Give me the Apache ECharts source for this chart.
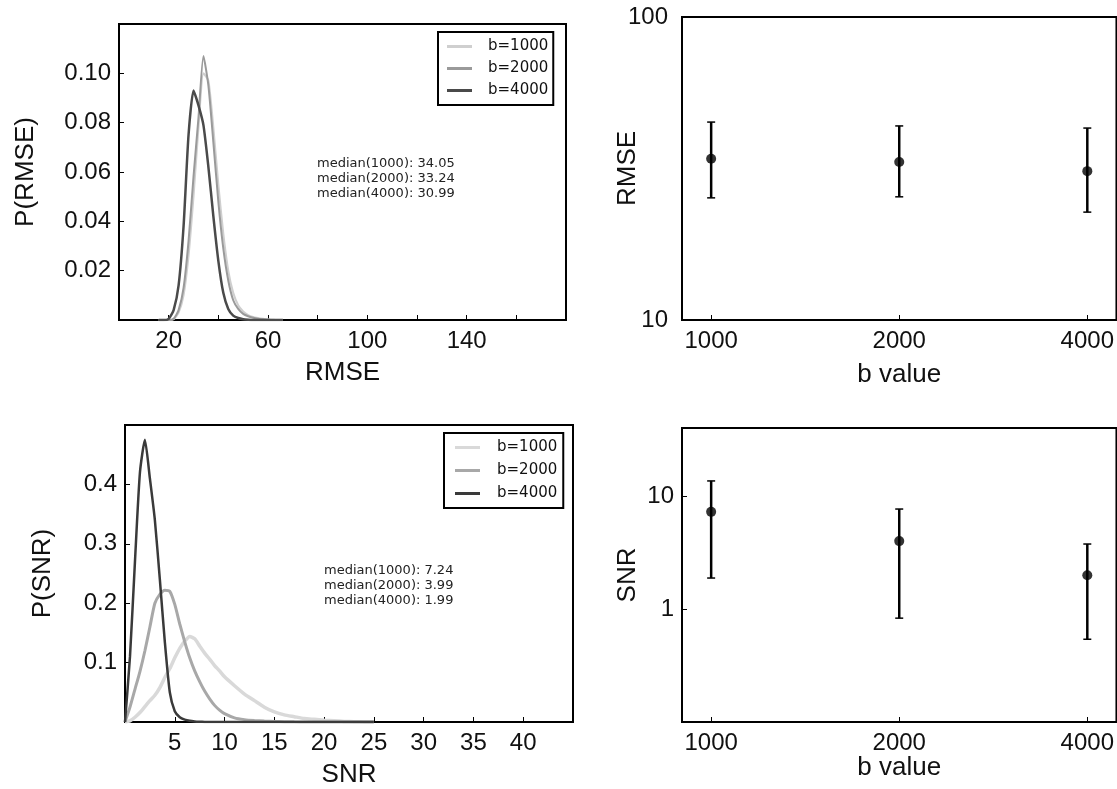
<!DOCTYPE html>
<html>
<head>
<meta charset="utf-8">
<script src="https://cdn.jsdelivr.net/npm/echarts@6/dist/echarts.min.js"></script>
<style>
html, body { margin: 0; padding: 0; background: #fff; }
#main { width: 1117px; height: 789px; }
</style>
</head>
<body>
<div id="main"></div>
<script>
// b values and names
var bLabels = ['1000', '2000', '4000']
var seriesNames = ['b=1000', 'b=2000', 'b=4000']

// P(RMSE) curves
var rmseX = [16, 18, 20, 22, 24, 26, 28, 30, 32, 34, 36, 38, 40, 42, 44, 46, 48, 50, 52, 54, 56, 58, 60, 62, 64, 66]
var rmse1000 = [0, 0, 0, 0.0003, 0.003, 0.010, 0.026, 0.050, 0.078, 0.100, 0.097, 0.078, 0.055, 0.035, 0.020, 0.011, 0.006, 0.0035, 0.002, 0.0012, 0.0008, 0.0005, 0.0003, 0.0001, 0, 0]
var rmse2000 = [0, 0, 0, 0.0005, 0.004, 0.013, 0.032, 0.058, 0.082, 0.107, 0.095, 0.072, 0.048, 0.029, 0.016, 0.008, 0.0045, 0.0025, 0.0015, 0.0009, 0.0005, 0.0003, 0.0001, 0, 0, 0]
var rmse4000 = [0, 0, 0.0005, 0.004, 0.014, 0.038, 0.075, 0.093, 0.087, 0.079, 0.062, 0.042, 0.024, 0.011, 0.0045, 0.0018, 0.0008, 0.0003, 0.0001, 0, 0, 0, 0, 0, 0, 0]

// P(SNR) curves
var snrX = [0, 0.5, 1, 1.5, 2, 2.5, 3, 3.5, 4, 4.5, 5, 5.5, 6, 6.5, 7, 7.5, 8, 8.5, 9, 9.5, 10, 11, 12, 13, 14, 15, 16, 17, 18, 19, 20, 21, 22, 23, 24, 25]
var snr1000 = [0, 0.002, 0.008, 0.016, 0.026, 0.036, 0.045, 0.058, 0.075, 0.090, 0.108, 0.124, 0.136, 0.144, 0.140, 0.128, 0.116, 0.106, 0.095, 0.086, 0.076, 0.061, 0.047, 0.036, 0.025, 0.017, 0.012, 0.009, 0.006, 0.0045, 0.003, 0.002, 0.001, 0.0005, 0.0002, 0]
var snr2000 = [0, 0.025, 0.055, 0.085, 0.120, 0.160, 0.200, 0.215, 0.222, 0.220, 0.198, 0.165, 0.135, 0.108, 0.086, 0.068, 0.052, 0.039, 0.028, 0.020, 0.014, 0.007, 0.004, 0.0025, 0.0015, 0.001, 0.0006, 0.0003, 0.0001, 0, 0, 0, 0, 0, 0, 0]
var snr4000 = [0, 0.110, 0.270, 0.420, 0.475, 0.410, 0.340, 0.240, 0.135, 0.050, 0.018, 0.008, 0.004, 0.002, 0.001, 0.0005, 0.0002, 0, 0, 0, 0, 0, 0, 0, 0, 0, 0, 0, 0, 0, 0, 0, 0, 0, 0, 0]

// medians with error bars
var rmseMedian = [34.05, 33.24, 30.99]
var rmseLow = [25.3, 25.5, 22.7]
var rmseHigh = [45.0, 43.7, 43.0]
var snrMedian = [7.24, 3.99, 1.99]
var snrLow = [1.88, 0.83, 0.54]
var snrHigh = [13.6, 7.67, 3.76]

var topColors = ['#cfcfcf', '#9a9a9a', '#4a4a4a']
var topWidths = [2, 2, 2.5]
var botColors = ['#d9d9d9', '#a8a8a8', '#3a3a3a']
var botWidths = [3.5, 3, 2.5]

var FONT = 'Liberation Sans, Arial, sans-serif'
var SMALL = 'DejaVu Sans, sans-serif'

function pairs(xs, ys) {
    var out = []
    for (var i = 0; i < xs.length; i++) {
        out.push([xs[i], ys[i]])
    }
    return out
}

function medianText(vals, digits) {
    var lines = []
    for (var i = 0; i < vals.length; i++) {
        lines.push('median(' + bLabels[i] + '): ' + vals[i].toFixed(digits))
    }
    return lines.join('\n')
}

function errData(med, low, high) {
    var out = []
    for (var i = 0; i < med.length; i++) {
        out.push([i, low[i], high[i]])
    }
    return out
}

function errItem(params, api) {
    var x = api.value(0)
    var lo = api.coord([x, api.value(1)])
    var hi = api.coord([x, api.value(2)])
    var cap = 4
    return {
        type: 'group',
        children: [
            { type: 'line', shape: { x1: lo[0], y1: lo[1], x2: hi[0], y2: hi[1] }, style: { stroke: '#000', lineWidth: 2.5 } },
            { type: 'line', shape: { x1: lo[0] - cap, y1: lo[1], x2: lo[0] + cap, y2: lo[1] }, style: { stroke: '#000', lineWidth: 1.5 } },
            { type: 'line', shape: { x1: hi[0] - cap, y1: hi[1], x2: hi[0] + cap, y2: hi[1] }, style: { stroke: '#000', lineWidth: 1.5 } }
        ]
    }
}

function legendData(colors) {
    var out = []
    for (var i = 0; i < seriesNames.length; i++) {
        out.push({ name: seriesNames[i], itemStyle: { color: colors[i] } })
    }
    return out
}

var tick = { show: true, inside: true, length: 5, lineStyle: { color: '#000', width: 1 } }
var line = { show: true, onZero: false, lineStyle: { color: '#000', width: 2 } }
var lbl = { color: '#111', fontFamily: FONT, fontSize: 24 }
var nameStyle = { color: '#111', fontFamily: FONT, fontSize: 26 }
var gridStyle = { show: true, borderColor: '#000', borderWidth: 2, backgroundColor: '#fff' }

var xLog = {
    type: 'value', min: -0.155, max: 2.155,
    axisLine: line, splitLine: { show: false },
    axisTick: { show: true, inside: true, length: 5, lineStyle: { color: '#000' }, customValues: [0, 1, 2] },
    nameLocation: 'middle', name: 'b value', nameTextStyle: nameStyle, nameMoveOverlap: false
}

var option = {
    backgroundColor: '#fff',
    animation: false,
    grid: [
        Object.assign({ left: 119, top: 24, width: 447, height: 296 }, gridStyle),
        Object.assign({ left: 682, top: 17, width: 446, height: 303 }, gridStyle),
        Object.assign({ left: 125, top: 425, width: 448, height: 298 }, gridStyle),
        Object.assign({ left: 682, top: 428, width: 446, height: 294 }, gridStyle)
    ],
    legend: [
        {
            orient: 'vertical', left: 438, top: 32, padding: [5, 5, 5, 9],
            itemGap: 3, itemWidth: 25, itemHeight: 3, icon: 'rect',
            borderColor: '#000', borderWidth: 2, backgroundColor: '#fff',
            selectedMode: false,
            textStyle: { fontFamily: SMALL, fontSize: 15, color: '#111', lineHeight: 19, padding: [0, 0, 0, 11] },
            data: legendData(topColors)
        },
        {
            orient: 'vertical', left: 444, top: 433, padding: [5, 6, 5, 11],
            itemGap: 4, itemWidth: 25, itemHeight: 3, icon: 'rect',
            borderColor: '#000', borderWidth: 2, backgroundColor: '#fff',
            selectedMode: false,
            textStyle: { fontFamily: SMALL, fontSize: 15, color: '#111', lineHeight: 19, padding: [0, 0, 0, 12] },
            data: legendData(botColors)
        }
    ],
    xAxis: [
        {
            gridIndex: 0, type: 'value', min: 0, max: 180, interval: 20,
            axisLine: line, axisTick: tick, splitLine: { show: false },
            axisLabel: Object.assign({ margin: 9, formatter: function (v) { return (v % 40 === 20 && v < 180) ? String(v) : '' } }, lbl),
            name: 'RMSE', nameLocation: 'middle', nameGap: 40, nameTextStyle: nameStyle, nameMoveOverlap: false
        },
        Object.assign({}, xLog, {
            gridIndex: 1, nameGap: 42,
            axisLabel: Object.assign({ margin: 9, customValues: [0, 1, 2], formatter: function (v) { return bLabels[Math.round(v)] } }, lbl)
        }),
        {
            gridIndex: 2, type: 'value', min: 0, max: 45, interval: 5,
            axisLine: line, axisTick: tick, splitLine: { show: false },
            axisLabel: Object.assign({ margin: 9, showMinLabel: false, showMaxLabel: false }, lbl),
            name: 'SNR', nameLocation: 'middle', nameGap: 40, nameTextStyle: nameStyle, nameMoveOverlap: false
        },
        Object.assign({}, xLog, {
            gridIndex: 3, nameGap: 33,
            axisLabel: Object.assign({ margin: 9, customValues: [0, 1, 2], formatter: function (v) { return bLabels[Math.round(v)] } }, lbl)
        })
    ],
    yAxis: [
        {
            gridIndex: 0, type: 'value', min: 0, max: 0.12, interval: 0.02,
            axisLine: line, axisTick: tick, splitLine: { show: false },
            axisLabel: Object.assign({ margin: 8, showMinLabel: false, showMaxLabel: false, formatter: function (v) { return v.toFixed(2) } }, lbl),
            name: 'P(RMSE)', nameLocation: 'middle', nameGap: 80, nameTextStyle: nameStyle, nameMoveOverlap: false
        },
        {
            gridIndex: 1, type: 'log', logBase: 10, min: 10, max: 100,
            axisLine: line, axisTick: tick, splitLine: { show: false },
            axisLabel: Object.assign({ margin: 14 }, lbl),
            name: 'RMSE', nameLocation: 'middle', nameGap: 41, nameTextStyle: nameStyle, nameMoveOverlap: false
        },
        {
            gridIndex: 2, type: 'value', min: 0, max: 0.5, interval: 0.1,
            axisLine: line, axisTick: tick, splitLine: { show: false },
            axisLabel: Object.assign({ margin: 8, showMinLabel: false, showMaxLabel: false, formatter: function (v) { return v.toFixed(1) } }, lbl),
            name: 'P(SNR)', nameLocation: 'middle', nameGap: 69, nameTextStyle: nameStyle, nameMoveOverlap: false
        },
        {
            gridIndex: 3, type: 'log', logBase: 10, min: 0.1, max: 40,
            axisLine: line, axisTick: tick, splitLine: { show: false },
            axisLabel: Object.assign({ margin: 8, formatter: function (v) { return (v > 0.5 && v < 20) ? String(Math.round(v)) : '' } }, lbl),
            name: 'SNR', nameLocation: 'middle', nameGap: 41, nameTextStyle: nameStyle, nameMoveOverlap: false
        }
    ],
    graphic: [
        {
            type: 'text', left: 317, top: 156,
            style: { text: medianText(rmseMedian, 2), font: '13px ' + SMALL, fill: '#222', lineHeight: 15 }
        },
        {
            type: 'text', left: 324, top: 563,
            style: { text: medianText(snrMedian, 2), font: '13px ' + SMALL, fill: '#222', lineHeight: 15 }
        }
    ],
    series: []
}

var topCurves = [rmse1000, rmse2000, rmse4000]
var botCurves = [snr1000, snr2000, snr4000]
for (var i = 0; i < 3; i++) {
    option.series.push({
        name: seriesNames[i], type: 'line', xAxisIndex: 0, yAxisIndex: 0,
        data: pairs(rmseX, topCurves[i]), showSymbol: false, smooth: 0.2,
        lineStyle: { color: topColors[i], width: topWidths[i] }, itemStyle: { color: topColors[i] }
    })
}
for (var j = 0; j < 3; j++) {
    option.series.push({
        name: seriesNames[j], type: 'line', xAxisIndex: 2, yAxisIndex: 2,
        data: pairs(snrX, botCurves[j]), showSymbol: false, smooth: 0.2,
        lineStyle: { color: botColors[j], width: botWidths[j] }, itemStyle: { color: botColors[j] }
    })
}

option.series.push(
    { type: 'custom', xAxisIndex: 1, yAxisIndex: 1, renderItem: errItem, data: errData(rmseMedian, rmseLow, rmseHigh), encode: { x: 0, y: [1, 2] }, z: 3 },
    { type: 'scatter', xAxisIndex: 1, yAxisIndex: 1, symbolSize: 10, itemStyle: { color: '#000' }, data: pairs([0, 1, 2], rmseMedian), z: 4 },
    { type: 'custom', xAxisIndex: 3, yAxisIndex: 3, renderItem: errItem, data: errData(snrMedian, snrLow, snrHigh), encode: { x: 0, y: [1, 2] }, z: 3 },
    { type: 'scatter', xAxisIndex: 3, yAxisIndex: 3, symbolSize: 10, itemStyle: { color: '#000' }, data: pairs([0, 1, 2], snrMedian), z: 4 }
)

var myChart = echarts.init(document.getElementById('main'), null, { renderer: 'canvas' })
myChart.setOption(option)
</script>
</body>
</html>
